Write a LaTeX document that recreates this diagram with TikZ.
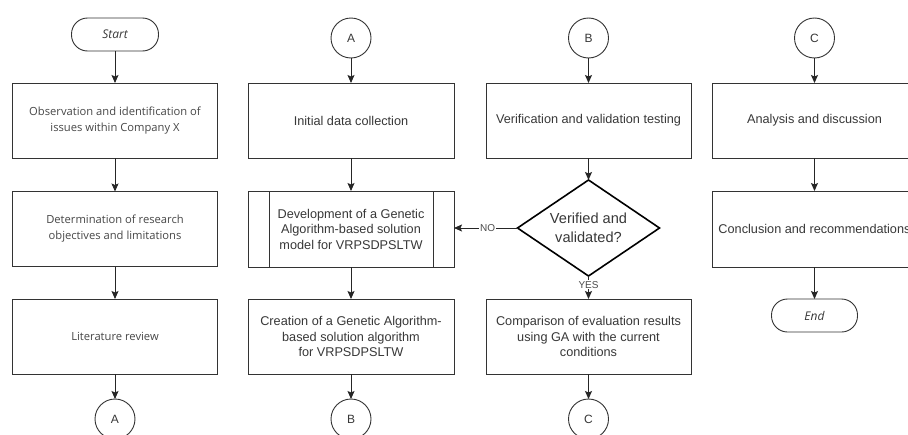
\documentclass[tikz,border=0pt]{standalone}
\usepackage{fontspec}
\setmainfont{Liberation Sans}
\newfontfamily\osans{Open Sans}
\usetikzlibrary{arrows.meta,shapes.geometric}
\begin{document}
\begin{tikzpicture}[x=1pt,y=-1pt,
  every node/.style={inner sep=0pt, outer sep=0pt},
  box/.style={draw=black!80, line width=0.9pt, minimum width=205pt, minimum height=75pt,
    align=center, text=black!78, font=\fontsize{12.7}{15.5}\selectfont},
  boxone/.style={box, font=\osans\fontsize{11.2}{16}\selectfont, text=black!72},
  term/.style={draw=black!80, line width=0.9pt, rounded corners=16pt, minimum width=87pt,
    minimum height=33pt, text=black!78, font=\osans\itshape\fontsize{12}{14}\selectfont},
  conn/.style={draw=black!80, line width=0.9pt, circle, minimum size=40pt, text=black!78,
    font=\fontsize{12}{14}\selectfont},
  dec/.style={draw=black, line width=1.6pt, diamond, aspect=1.48, minimum width=142pt,
    minimum height=96pt, align=center, text=black!78, font=\fontsize{14.6}{19}\selectfont},
  lbl/.style={fill=white, inner sep=1pt, text=black!70, font=\fontsize{10}{12}\selectfont},
  arr/.style={draw=black!85, line width=0.9pt, -{Stealth[length=8pt,width=7pt,inset=1.5pt]}}
]
\clip (0,0) rectangle (908,434);
\fill[white] (0,0) rectangle (908,434);

% Column 1
\node[term] (start) at (115,34.5) {Start};
\node[boxone] (c1a) at (115,120.5) {Observation and identification of\\issues within Company X};
\node[boxone] (c1b) at (115,229) {Determination of research\\objectives and limitations};
\node[boxone] (c1c) at (115,336.5) {Literature review};
\node[conn] (a1) at (115,419) {A};

% Column 2
\node[conn] (a2) at (351,38) {A};
\node[box, minimum width=206pt] (c2a) at (351,120.5) {Initial data collection};
\node[box, minimum width=206pt, minimum height=76pt] (c2b) at (351,229) {Development of a Genetic\\Algorithm-based solution\\model for VRPSDPSLTW};
\draw[black!80, line width=0.9pt] ([xshift=21pt]c2b.north west) -- ([xshift=21pt]c2b.south west);
\draw[black!80, line width=0.9pt] ([xshift=-21pt]c2b.north east) -- ([xshift=-21pt]c2b.south east);
\node[box, minimum width=206pt] (c2c) at (351,336.5) {Creation of a Genetic Algorithm-\\based solution algorithm\\for VRPSDPSLTW};
\node[conn] (b1) at (351,419) {B};

% Column 3
\node[conn] (b2) at (588.5,38) {B};
\node[box] (c3a) at (588.5,120.5) {Verification and validation testing};
\node[dec] (d) at (588.5,228) {Verified and\\validated?};
\node[box] (c3c) at (588.5,336.5) {Comparison of evaluation results\\using GA with the current\\conditions};
\node[conn] (c1) at (588.5,419) {C};

% Column 4
\node[conn] (c2) at (814.5,38) {C};
\node[box] (c4a) at (814.5,120.5) {Analysis and discussion};
\node[box, minimum height=76pt] (c4b) at (814.5,229) {Conclusion and recommendations};
\node[term, minimum width=86pt] (end) at (814.5,315.5) {End};

% Connectors
\draw[arr] (start) -- (c1a);
\draw[arr] (c1a) -- (c1b);
\draw[arr] (c1b) -- (c1c);
\draw[arr] (c1c) -- (a1);

\draw[arr] (a2) -- (c2a);
\draw[arr] (c2a) -- (c2b);
\draw[arr] (c2b) -- (c2c);
\draw[arr] (c2c) -- (b1);

\draw[arr] (b2) -- (c3a);
\draw[arr] (c3a) -- (d);
\draw[arr] (d.west) -- (c2b.east |- d.west) node[lbl, pos=0.47] {NO};
\draw[arr] (d.south) -- (c3c.north) node[lbl, pos=0.38] {YES};
\draw[arr] (c3c) -- (c1);

\draw[arr] (c2) -- (c4a);
\draw[arr] (c4a) -- (c4b);
\draw[arr] (c4b) -- (end);
\end{tikzpicture}
\end{document}
